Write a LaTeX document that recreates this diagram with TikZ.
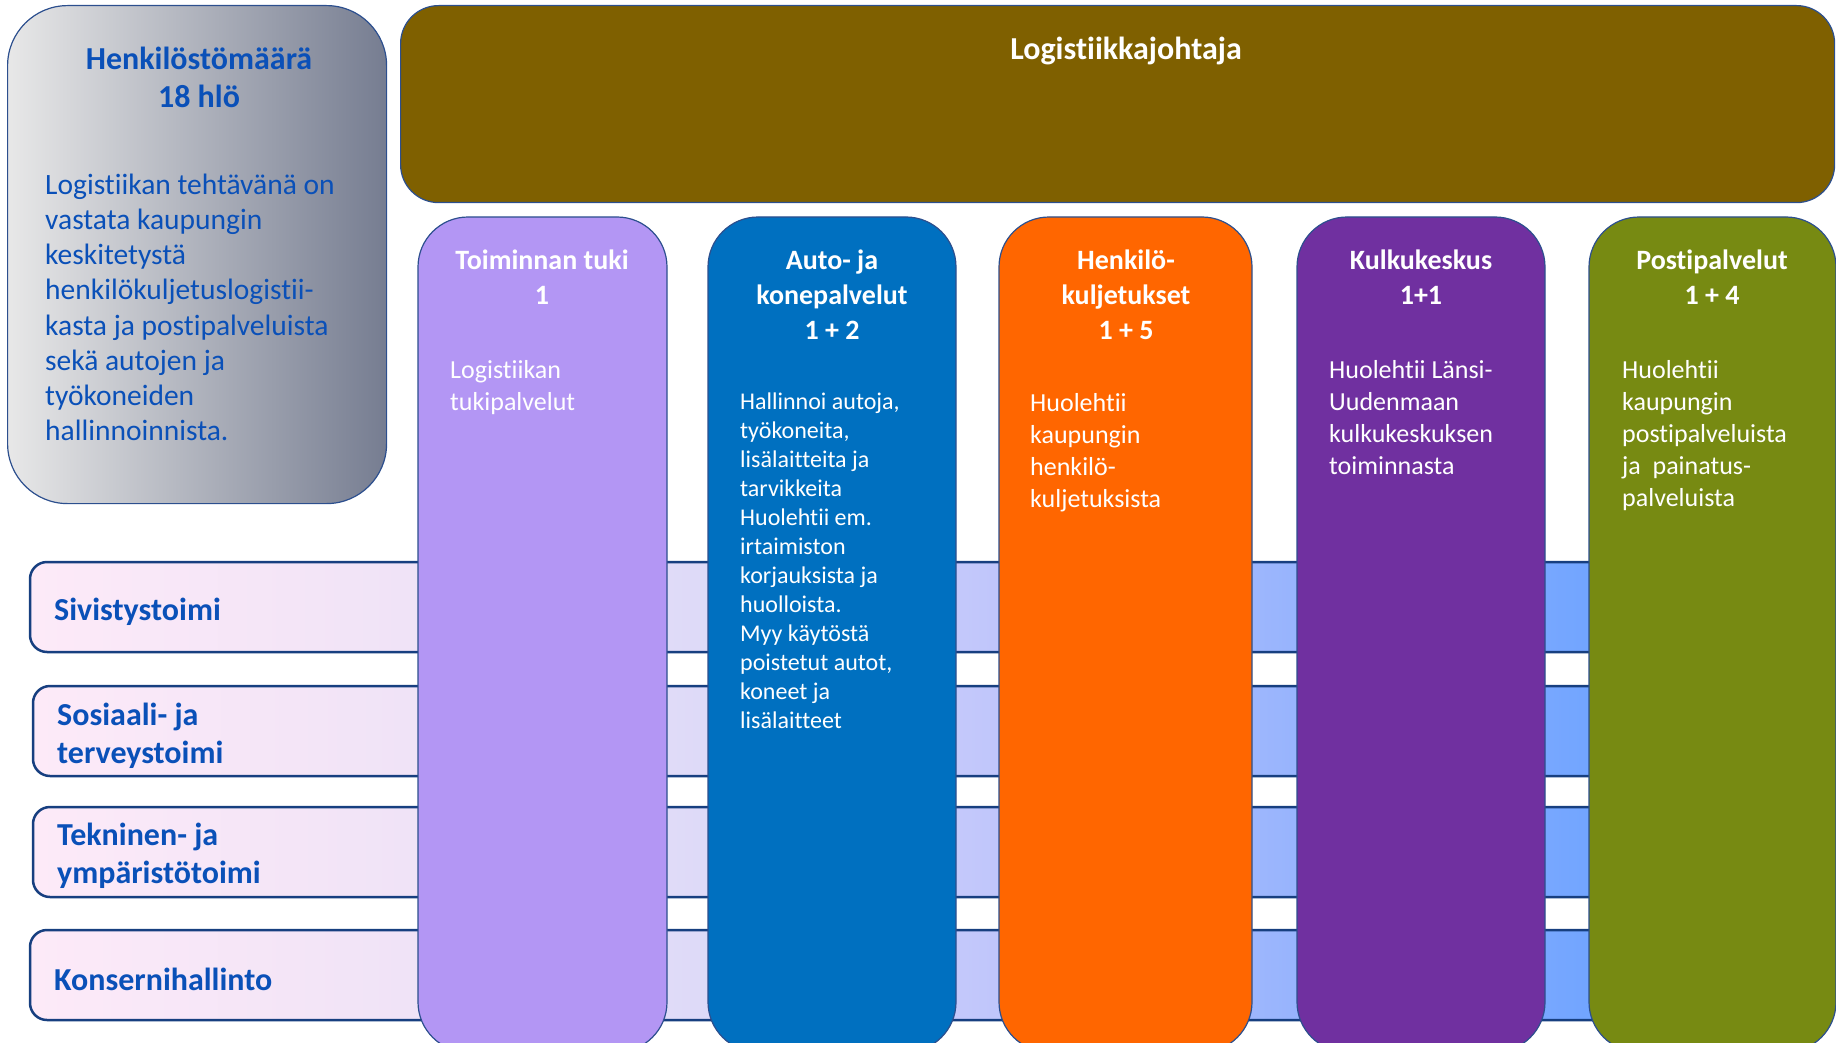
\documentclass[tikz,border=0pt]{standalone}
\usepackage{fontspec}
\setmainfont{Carlito}[Ligatures=NoCommon]
\definecolor{brownc}{HTML}{7F6000}
\definecolor{c1}{HTML}{B396F4}
\definecolor{c2}{HTML}{0070C0}
\definecolor{c3}{HTML}{FF6600}
\definecolor{c4}{HTML}{7030A0}
\definecolor{c5}{HTML}{778A12}
\definecolor{txtblue}{HTML}{0A50B8}
\definecolor{edgeblue}{HTML}{2C4F8E}
\definecolor{bandedge}{HTML}{173F80}
\definecolor{bA}{HTML}{FDEAF8}
\definecolor{bB}{HTML}{F0E3F7}
\definecolor{bC}{HTML}{DEDAF8}
\definecolor{bD}{HTML}{C0C6FB}
\definecolor{bE}{HTML}{98B4FD}
\definecolor{bF}{HTML}{72A5FF}
\definecolor{gA}{HTML}{E8E8E8}
\definecolor{gB}{HTML}{767D91}
\pgfdeclarehorizontalshading{bandsh}{100bp}{color(0bp)=(bA); color(25bp)=(bA); color(36.8bp)=(bB); color(46bp)=(bC); color(55.3bp)=(bD); color(64.6bp)=(bE); color(73.9bp)=(bF); color(100bp)=(bF)}
\pgfdeclarehorizontalshading{leftsh}{100bp}{color(0bp)=(gA); color(25bp)=(gA); color(75bp)=(gB); color(100bp)=(gB)}
\tikzset{
  colbox/.style={draw=edgeblue, line width=1.2pt, rounded corners=50pt, anchor=north west, inner sep=0pt, outer sep=0pt, minimum height=835pt},
  bandbox/.style={draw=bandedge, line width=2.5pt, rounded corners=17pt, shading=bandsh, anchor=north west, inner sep=0pt, outer sep=0pt, minimum width=1590pt, minimum height=90pt},
  headtxt/.style={text=white, font=\fontsize{28}{35}\selectfont\bfseries, align=center, anchor=north, inner sep=0pt},
  bodytxt/.style={text=white, font=\fontsize{26}{32}\selectfont, align=left, anchor=north west, inner sep=0pt},
  bandtxt/.style={text=txtblue, font=\fontsize{32}{37.5}\selectfont\bfseries, align=left, anchor=west, inner sep=0pt},
}
\begin{document}
\begin{tikzpicture}[x=1pt,y=-1pt]
\useasboundingbox (0,0) rectangle (1836,1043);
% left info box
\node[draw=edgeblue, line width=1.2pt, rounded corners=60pt, shading=leftsh, anchor=north west, inner sep=0pt, minimum width=379pt, minimum height=498pt] (info) at (7,5) {};
\node[text=txtblue, font=\fontsize{32}{38}\selectfont\bfseries, align=center, anchor=north, inner sep=0pt] (infotitle) at (199,47) {Henkilöstömäärä\\18 hlö};
\node[text=txtblue, font=\fontsize{29.5}{35.1}\selectfont, align=left, anchor=north west, inner sep=0pt] (infobody) at (45,174) {Logistiikan tehtävänä on\\vastata kaupungin\\keskitetystä\\henkilökuljetuslogistii-\\kasta ja postipalveluista\\sekä autojen ja\\työkoneiden\\hallinnoinnista.};
% top manager box
\node[draw=edgeblue, line width=1.2pt, fill=brownc, rounded corners=38pt, anchor=north west, inner sep=0pt, minimum width=1434pt, minimum height=197pt] (boss) at (400,5) {};
\node[headtxt, font=\fontsize{32}{38}\selectfont\bfseries] (bosstxt) at (1126,37) {Logistiikkajohtaja};
% bands
\node[bandbox] (b1) at (30,562) {};
\node[bandbox] (b2) at (33,686) {};
\node[bandbox] (b3) at (33,807) {};
\node[bandbox] (b4) at (30,930) {};
% columns
\node[colbox, fill=c1, minimum width=249pt] (k1) at (418,217) {};
\node[colbox, fill=c2, minimum width=248pt] (k2) at (708,217) {};
\node[colbox, fill=c3, minimum width=253pt] (k3) at (999,217) {};
\node[colbox, fill=c4, minimum width=248pt] (k4) at (1297,217) {};
\node[colbox, fill=c5, minimum width=247pt] (k5) at (1589,217) {};
% band labels
\node[bandtxt] (t1) at (54,612) {Sivistystoimi};
\node[bandtxt] (t2) at (57,736) {Sosiaali- ja\\terveystoimi};
\node[bandtxt] (t3) at (57,856) {Tekninen- ja\\ympäristötoimi};
\node[bandtxt] (t4) at (54,979) {Konsernihallinto};
% headers
\node[headtxt] (h1) at (542,250) {Toiminnan tuki\\1};
\node[headtxt] (h2) at (832,250) {Auto- ja\\konepalvelut\\1 + 2};
\node[headtxt] (h3) at (1126,250) {Henkilö-\\kuljetukset\\1 + 5};
\node[headtxt] (h4) at (1421,250) {Kulkukeskus\\1+1};
\node[headtxt] (h5) at (1712,250) {Postipalvelut\\1 + 4};
% bodies
\node[bodytxt] (d1) at (450,360) {Logistiikan\\tukipalvelut};
\node[bodytxt, font=\fontsize{24}{29}\selectfont] (d2) at (740,393) {Hallinnoi autoja,\\työkoneita,\\lisälaitteita ja\\tarvikkeita\\Huolehtii em.\\irtaimiston\\korjauksista ja\\huolloista.\\Myy käytöstä\\poistetut autot,\\koneet ja\\lisälaitteet};
\node[bodytxt] (d3) at (1030,393) {Huolehtii\\kaupungin\\henkilö-\\kuljetuksista};
\node[bodytxt] (d4) at (1329,360) {Huolehtii Länsi-\\Uudenmaan\\kulkukeskuksen\\toiminnasta};
\node[bodytxt] (d5) at (1622,360) {Huolehtii\\kaupungin\\postipalveluista\\ja~ painatus-\\palveluista};
\end{tikzpicture}
\end{document}
